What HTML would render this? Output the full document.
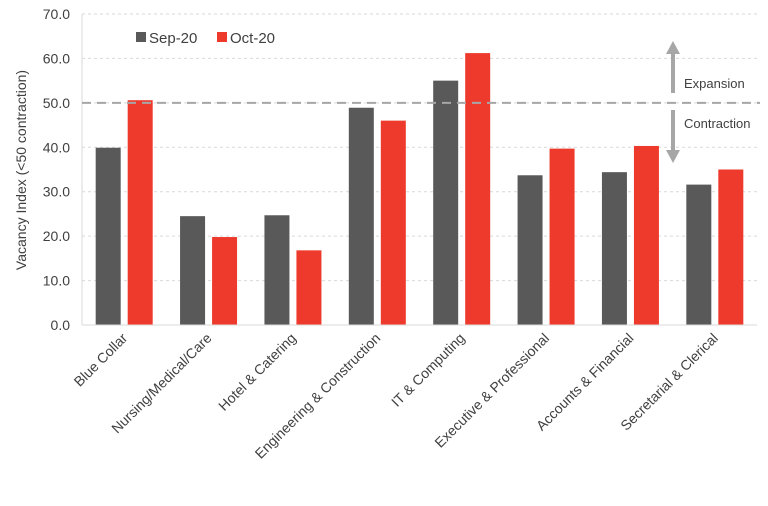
<!DOCTYPE html>
<html><head><meta charset="utf-8"><style>
body{margin:0;background:#fff;}
svg text{font-family:"Liberation Sans",Arial,sans-serif;fill:#404040;}
</style></head><body>
<svg id="chart" width="768" height="501" viewBox="0 0 768 501" xmlns="http://www.w3.org/2000/svg">
<g id="grid"></g>
<g id="yaxis"></g>
<g id="bars"></g>
<g id="xaxis"></g>
<line id="thr" x1="82" x2="760" stroke="#a6a6a6" stroke-width="2" stroke-dasharray="9,6"/>
<text transform="translate(26,170) rotate(-90)" text-anchor="middle" font-size="14">Vacancy Index (&lt;50 contraction)</text>
<g>
<rect x="136" y="32" width="10" height="10" fill="#595959"/>
<text x="149" y="43" font-size="15">Sep-20</text>
<rect x="217" y="32" width="10" height="10" fill="#ee3a2c"/>
<text x="230" y="43" font-size="15">Oct-20</text>
</g>
<g fill="#a6a6a6">
<rect x="671" y="50" width="4" height="43"/>
<polygon points="666,54 673,41 680,54"/>
</g>
<g fill="#a6a6a6">
<rect x="671" y="110" width="4" height="43"/>
<polygon points="666,150 673,163 680,150"/>
</g>
<text x="684" y="88" font-size="13">Expansion</text>
<text x="684" y="128" font-size="13">Contraction</text>
</svg>
<script>
const categories=["Blue Collar","Nursing/Medical/Care","Hotel & Catering","Engineering & Construction","IT & Computing","Executive & Professional","Accounts & Financial","Secretarial & Clerical"];
const sep20=[39.9,24.5,24.7,48.9,55.0,33.7,34.4,31.6];
const oct20=[50.6,19.8,16.8,46.0,61.2,39.7,40.3,35.0];
const yTicks=[0,10,20,30,40,50,60,70];
const yTickLabels=["0.0","10.0","20.0","30.0","40.0","50.0","60.0","70.0"];
const threshold=50;
const NS="http://www.w3.org/2000/svg";
const L=82,R=757,T=14,B=325,yMax=70;
const y=v=>B-(v/yMax)*(B-T);
const band=(R-L)/categories.length;
const x=i=>L+band*i+band/2;
function mk(t,a,p){const e=document.createElementNS(NS,t);for(const k in a)e.setAttribute(k,a[k]);p.appendChild(e);return e;}
const grid=document.getElementById('grid'),ya=document.getElementById('yaxis'),bars=document.getElementById('bars'),xa=document.getElementById('xaxis');
yTicks.forEach((v,i)=>{
  if(v>0){const g=mk('line',{x1:L,x2:R,y1:y(v),y2:y(v),stroke:'#d9d9d9','stroke-dasharray':'3,3'},grid);
  
  }
  const t=mk('text',{x:L-12,y:y(v)+5,'text-anchor':'end','font-size':'14'},ya);
  t.textContent=yTickLabels[i];
  
  
});
const ax=mk('line',{x1:L,x2:L,y1:T,y2:B,stroke:'#d9d9d9'},ya);


const bx=mk('line',{x1:L,x2:R,y1:B,y2:B,stroke:'#d9d9d9'},xa);


const bw=25,gap=7;
categories.forEach((c,i)=>{
  const cx=x(i);
  const r1=mk('rect',{x:cx-gap/2-bw,y:y(sep20[i]),width:bw,height:B-y(sep20[i]),fill:'#595959'},bars);
  
  
  const r2=mk('rect',{x:cx+gap/2,y:y(oct20[i]),width:bw,height:B-y(oct20[i]),fill:'#ee3a2c'},bars);
  
  
  const t=mk('text',{transform:`translate(${cx+4},${B+14}) rotate(-45)`,'text-anchor':'end','font-size':'14'},xa);
  t.textContent=c;
  
  
});
const th=document.getElementById('thr');th.setAttribute('y1',y(threshold));th.setAttribute('y2',y(threshold));
</script>
</body></html>
